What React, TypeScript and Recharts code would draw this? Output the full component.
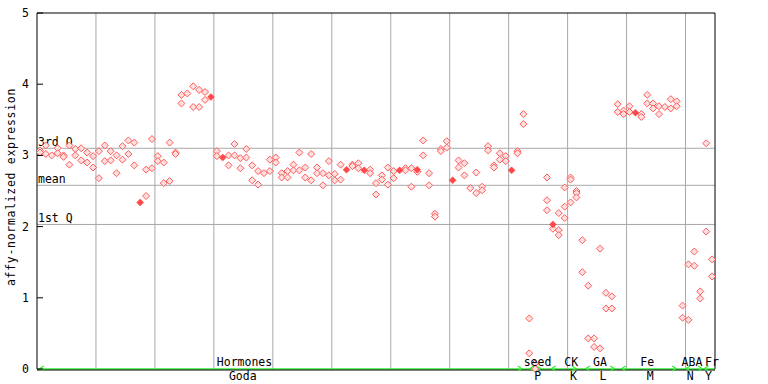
import React from 'react';
import { ScatterChart, Scatter, XAxis, YAxis, ReferenceLine } from 'recharts';

// ---- data ----
const hormonesValues: number[][] = [
  [3.07, 3.04], [3.14, 3.02], [3.0], [3.1, 3.03], [3.0, 2.98], [3.14, 2.87], [3.09, 3.0], [3.1, 2.93], [3.04, 2.9], [2.99, 2.83],
  [3.06, 2.68], [3.14, 2.92], [3.06, 2.93], [3.0, 2.75], [3.13, 2.94], [3.21, 3.02], [3.18, 2.86], [], [2.8, 2.43], [3.23, 2.82],
  [2.99, 2.92], [2.9, 2.61], [3.18, 2.64], [3.04, 3.02], [3.85, 3.73], [3.87], [3.97, 3.68], [3.92, 3.68], [3.89, 3.78], [],
  [3.06, 2.99], [], [3.0, 2.86], [3.16, 3.0], [2.96, 2.82], [3.09, 2.97], [2.86, 2.65], [2.78, 2.59], [2.75], [2.94, 2.78],
  [2.97, 2.9], [2.75, 2.69], [2.78, 2.69], [2.87, 2.79], [3.04, 2.79], [2.83, 2.69], [3.02, 2.65], [2.83, 2.75], [2.75, 2.58], [2.92, 2.72],
  [2.74, 2.65], [2.87, 2.66], [], [2.87, 2.85], [2.89, 2.82], [], [2.8, 2.75], [2.61, 2.45], [2.72, 2.66], [2.83, 2.59],
  [2.78, 2.68], [], [2.82, 2.79], [2.82, 2.56], [2.77], [3.21, 3.0], [2.75, 2.58], [2.18, 2.14], [3.09, 3.06], [3.2, 3.11],
  [], [2.93, 2.83], [2.89, 2.72], [2.54], [2.76, 2.47], [2.56, 2.51], [3.13, 3.07], [2.86, 2.83], [3.03, 2.94], [2.99, 2.92],
  [], [3.06, 3.03], [3.58, 3.44],
];
const seedValues: number[][] = [[0.71, 0.22], [0.08, 0.0], []];
const ckValues: number[][] = [[2.69, 2.37, 2.23], [1.97], [2.19, 1.95, 1.88], [2.55, 2.28, 2.12], [2.69, 2.66, 2.34], [2.5, 2.47, 2.41]];
const gaValues: number[][] = [[1.81, 1.36], [1.17, 0.43], [0.43, 0.31], [1.69, 0.29], [1.07, 0.85], [1.02, 0.85]];
const feValues: number[][] = [[3.72, 3.61], [3.63, 3.58], [3.69, 3.61], [], [3.58, 3.54], [3.85, 3.73], [3.73, 3.66], [3.69, 3.58], [3.68], [3.79, 3.66], [3.76, 3.69]];
const abaValues: number[][] = [[0.89, 0.72], [1.47, 0.69], [1.65, 1.45], [1.09, 0.99]];
const frValues: number[][] = [[3.17, 1.93], [1.54, 1.3]];

const filledIndex = [17, 29, 31, 52, 55, 61, 64, 70, 80, 87, 101];
const filledValue = [2.34, 3.82, 2.97, 2.8, 2.79, 2.79, 2.8, 2.65, 2.79, 2.03, 3.6];

const topLabels = ['Hormones', 'seed', 'CK', 'GA', 'Fe', 'ABA', 'Fr'];
const topLabelPos = [35.2, 84.9, 90.6, 95.5, 103.5, 111.1, 114.5];
const bottomLabels = ['Goda', 'P', 'K', 'L', 'M', 'N', 'Y'];
const bottomLabelPos = [34.9, 84.95, 91.0, 96.0, 104.0, 110.8, 113.9];

const arrowRightPos = [82.2, 85.4, 91.4, 97.9, 108.4, 112.8];
const arrowLeftPos = [0.5, 83.6, 87.3, 93.1, 99.2, 110.1, 113.2];

const quartile3 = 3.1;
const meanValue = 2.58;
const quartile1 = 2.03;
const yTicks = [0, 1, 2, 3, 4, 5];
const gridX = [10, 20, 30, 40, 50, 60, 70, 80, 90, 100, 110];
const xDomain = [0, 115];

// ---- build points ----
const allGroups = [hormonesValues, seedValues, ckValues, gaValues, feValues, abaValues, frValues];
const samples: number[][] = allGroups.flat();
const points = samples.flatMap((vals, i) => vals.map((v) => ({ x: i + 0.5, y: v })));
const filledPoints = filledIndex.map((i, k) => ({ x: i + 0.5, y: filledValue[k] }));
const arrowsRight = arrowRightPos.map((x) => ({ x, y: 0 }));
const arrowsLeft = arrowLeftPos.map((x) => ({ x, y: 0 }));

const FONT = '"DejaVu Sans Mono", monospace';
const RED = '#ff5a5a';
const GREEN = '#33ee33';
const GRID = '#a8a8a8';

const HollowDiamond = (props: any) => {
  const { cx, cy } = props;
  if (cx == null || cy == null) return null;
  const r = 3.5;
  return (
    <polygon
      points={`${cx},${cy - r} ${cx + r},${cy} ${cx},${cy + r} ${cx - r},${cy}`}
      fill="#ffe0e0"
      stroke={RED}
      strokeWidth={1}
    />
  );
};

const FilledDiamond = (props: any) => {
  const { cx, cy } = props;
  if (cx == null || cy == null) return null;
  const r = 3.5;
  return (
    <polygon
      points={`${cx},${cy - r} ${cx + r},${cy} ${cx},${cy + r} ${cx - r},${cy}`}
      fill="#ff4848"
      stroke="#ff4848"
      strokeWidth={0.5}
    />
  );
};

const ArrowRight = (props: any) => {
  const { cx, cy } = props;
  if (cx == null || cy == null) return null;
  return <polyline points={`${cx - 4},${cy - 3} ${cx},${cy - 0.5} ${cx - 4},${cy + 2}`} fill="none" stroke={GREEN} strokeWidth={1.2} />;
};
const ArrowLeft = (props: any) => {
  const { cx, cy } = props;
  if (cx == null || cy == null) return null;
  return <polyline points={`${cx + 4},${cy - 3} ${cx},${cy - 0.5} ${cx + 4},${cy + 2}`} fill="none" stroke={GREEN} strokeWidth={1.2} />;
};

const TopTick = (props: any) => {
  const { x, y, payload } = props;
  const i = topLabelPos.indexOf(payload.value);
  return (
    <text x={x} y={y - 3} textAnchor="middle" fontFamily={FONT} fontSize={11.5} fill="#000">
      {topLabels[i]}
    </text>
  );
};
const BottomTick = (props: any) => {
  const { x, y, payload } = props;
  const i = bottomLabelPos.indexOf(payload.value);
  return (
    <text x={x} y={y + 10} textAnchor="middle" fontFamily={FONT} fontSize={11.5} fill="#000">
      {bottomLabels[i]}
    </text>
  );
};
const LeftTick = (props: any) => {
  const { x, y, payload } = props;
  return (
    <g>
      <line x1={x} x2={x + 6} y1={y} y2={y} stroke="#000" />
      <text x={x - 8} y={y + 4} textAnchor="end" fontFamily={FONT} fontSize={11.5} fill="#000">
        {payload.value}
      </text>
    </g>
  );
};
const RightTick = (props: any) => {
  const { x, y } = props;
  return <line x1={x - 5} x2={x} y1={y} y2={y} stroke="#000" />;
};

const refLabel = (text: string) => (p: any) => {
  const vb = p.viewBox;
  return (
    <text x={vb.x + 1} y={vb.y - 2} fontFamily={FONT} fontSize={11.5} fill="#000">
      {text}
    </text>
  );
};

const YTitle = (p: any) => {
  const vb = p.viewBox;
  const cx = 11;
  const cy = vb.y + 174;
  return (
    <text x={cx} y={cy} transform={`rotate(-90 ${cx} ${cy})`} textAnchor="middle" dominantBaseline="central" fontFamily={FONT} fontSize={11.5} letterSpacing={0.7} fill="#000">
      affy-normalized expression
    </text>
  );
};

export default function App() {
  return (
    <div style={{ position: 'absolute', left: 0, top: 0, width: 768, height: 384, background: '#fff' }}>
      <ScatterChart width={768} height={384} margin={{ top: 13, right: 0, bottom: 0, left: 0 }}>
        <XAxis
          xAxisId="a"
          type="number"
          dataKey="x"
          domain={xDomain}
          ticks={topLabelPos}
          interval={0}
          tick={<TopTick />}
          tickLine={false}
          tickSize={0}
          tickMargin={0}
          height={1}
          axisLine={{ stroke: GREEN, strokeWidth: 1.5 }}
          allowDataOverflow
        />
        <XAxis
          xAxisId="b"
          type="number"
          dataKey="x"
          domain={xDomain}
          ticks={bottomLabelPos}
          interval={0}
          tick={<BottomTick />}
          tickLine={false}
          tickSize={0}
          tickMargin={0}
          height={14}
          axisLine={{ stroke: '#000' }}
          allowDataOverflow
        />
        <YAxis
          yAxisId="l"
          type="number"
          dataKey="y"
          domain={[0, 5]}
          ticks={yTicks}
          interval={0}
          width={37}
          tick={<LeftTick />}
          tickLine={false}
          tickSize={0}
          tickMargin={0}
          axisLine={{ stroke: '#000' }}
          label={<YTitle />}
        />
        <YAxis
          yAxisId="r"
          orientation="right"
          type="number"
          domain={[0, 5]}
          ticks={yTicks}
          interval={0}
          width={53}
          tick={<RightTick />}
          tickLine={false}
          tickSize={0}
          tickMargin={0}
          axisLine={{ stroke: '#000' }}
        />
        {gridX.map((g) => (
          <ReferenceLine key={g} xAxisId="a" yAxisId="l" x={g} stroke={GRID} strokeWidth={1} />
        ))}
        <ReferenceLine xAxisId="a" yAxisId="l" y={quartile3} stroke={GRID} label={refLabel('3rd Q')} />
        <ReferenceLine xAxisId="a" yAxisId="l" y={meanValue} stroke={GRID} label={refLabel('mean')} />
        <ReferenceLine xAxisId="a" yAxisId="l" y={quartile1} stroke={GRID} label={refLabel('1st Q')} />
        <ReferenceLine xAxisId="a" yAxisId="l" y={5} stroke="#000" />
        <Scatter xAxisId="a" yAxisId="l" data={arrowsRight} shape={<ArrowRight />} isAnimationActive={false} />
        <Scatter xAxisId="a" yAxisId="l" data={arrowsLeft} shape={<ArrowLeft />} isAnimationActive={false} />
        <Scatter xAxisId="a" yAxisId="l" data={points} shape={<HollowDiamond />} isAnimationActive={false} />
        <Scatter xAxisId="a" yAxisId="l" data={filledPoints} shape={<FilledDiamond />} isAnimationActive={false} />
      </ScatterChart>
    </div>
  );
}
